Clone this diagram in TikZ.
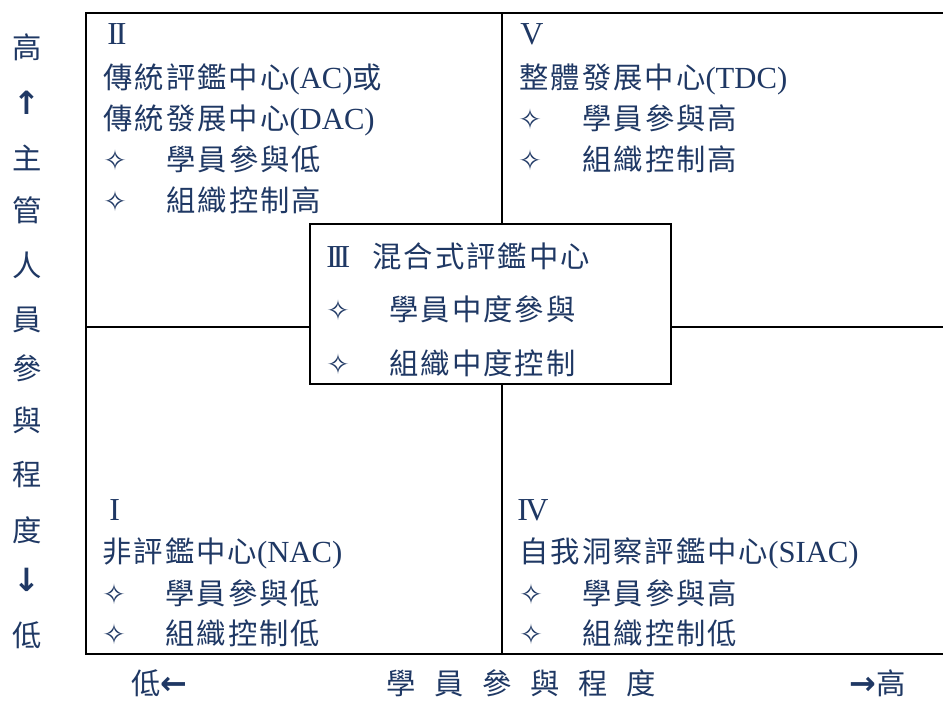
\documentclass[tikz,border=0pt]{standalone}
\usepackage{fontspec}
\setmainfont{Liberation Serif}
\newfontfamily\cjk[LetterSpace=7]{Noto Sans CJK TC}
\newfontfamily\cjkplain{Noto Sans CJK TC}
\newfontfamily\sym{DejaVu Sans}
\newfontfamily\symb{DejaVu Sans Bold}
\definecolor{navy}{RGB}{31,56,100}
\newcommand\zh[1]{{\cjk\fontsize{22}{22}\selectfont #1}}
\newcommand\zhv[1]{{\cjkplain\fontsize{22}{22}\selectfont #1}}
\newcommand\starmk{{\sym\fontsize{21}{21}\selectfont ✧}}
\newcommand\arr[1]{{\symb\fontsize{24}{24}\selectfont #1}}
\tikzset{
  txt/.style={anchor=base west, inner sep=0pt, text=navy, font=\fontsize{23}{23}\selectfont},
  numr/.style={anchor=base west, inner sep=0pt, text=navy, font=\fontsize{24}{24}\selectfont},
  vchar/.style={anchor=center, inner sep=0pt, text=navy},
  outer/.style={line width=1.8pt, black},
  inner/.style={line width=1pt, black},
  midbox/.style={draw=black, line width=1.8pt, fill=white, minimum width=361*0.75pt, minimum height=160*0.75pt, inner sep=0pt, anchor=north west}
}
\begin{document}
\begin{tikzpicture}[x=0.75pt,y=-0.75pt]
\useasboundingbox (0,0) rectangle (943,702);
\fill[white] (0,0) rectangle (943,702);
% grid lines
\coordinate (tl) at (86,13);
\coordinate (tr) at (943,13);
\coordinate (bl) at (86,654);
\coordinate (br) at (943,654);
\coordinate (vt) at (502,13);
\coordinate (vb) at (502,654);
\coordinate (hl) at (86,327);
\coordinate (hr) at (943,327);
\draw[inner] (vt) -- (vb);
\draw[inner] (hl) -- (hr);
\draw[outer] (tr) -- (tl) -- (bl) -- (br);
% center box
\node[midbox] (mid) at (309,223) {};
% left vertical label
\node[vchar] (v1) at (27,47) {\zhv{高}};
\node[vchar] (v2) at (27,103) {\arr{↑}};
\node[vchar] (v3) at (27,158) {\zhv{主}};
\node[vchar] (v4) at (27,210) {\zhv{管}};
\node[vchar] (v5) at (27,265) {\zhv{人}};
\node[vchar] (v6) at (27,320) {\zhv{員}};
\node[vchar] (v7) at (27,368) {\zhv{參}};
\node[vchar] (v8) at (27,420) {\zhv{與}};
\node[vchar] (v9) at (27,475) {\zhv{程}};
\node[vchar] (v10) at (27,530) {\zhv{度}};
\node[vchar] (v11) at (27,580) {\arr{↓}};
\node[vchar] (v12) at (27,635) {\zhv{低}};
% quadrant II
\node[numr] (q2n) at (107,45) {I\kern-1.5ptI};
\node[txt] (q2a) at (103,89) {\zh{傳統評鑑中心}(AC)\zh{或}};
\node[txt] (q2b) at (103,130) {\zh{傳統發展中心}(DAC)};
\node[txt] (q2s1) at (103,171) {\starmk};
\node[txt] (q2t1) at (166,171) {\zh{學員參與低}};
\node[txt] (q2s2) at (103,212) {\starmk};
\node[txt] (q2t2) at (166,212) {\zh{組織控制高}};
% quadrant V
\node[numr] (q5n) at (520,45) {V};
\node[txt] (q5a) at (519,89) {\zh{整體發展中心}(TDC)};
\node[txt] (q5s1) at (518,130) {\starmk};
\node[txt] (q5t1) at (582,130) {\zh{學員參與高}};
\node[txt] (q5s2) at (518,171) {\starmk};
\node[txt] (q5t2) at (582,171) {\zh{組織控制高}};
% quadrant III (center)
\node[numr] (q3n) at (326,268) {I\kern-3ptI\kern-3ptI};
\node[txt] (q3a) at (372,268) {\zh{混合式評鑑中心}};
\node[txt] (q3s1) at (326,321) {\starmk};
\node[txt] (q3t1) at (389,321) {\zh{學員中度參與}};
\node[txt] (q3s2) at (326,375) {\starmk};
\node[txt] (q3t2) at (389,375) {\zh{組織中度控制}};
% quadrant I
\node[numr] (q1n) at (109,520) {I};
\node[txt] (q1a) at (102,562) {\zh{非評鑑中心}(NAC)};
\node[txt] (q1s1) at (102,604) {\starmk};
\node[txt] (q1t1) at (165,604) {\zh{學員參與低}};
\node[txt] (q1s2) at (102,644) {\starmk};
\node[txt] (q1t2) at (165,644) {\zh{組織控制低}};
% quadrant IV
\node[numr] (q4n) at (517,520) {I\kern-2ptV};
\node[txt] (q4a) at (519,562) {\zh{自我洞察評鑑中心}(SIAC)};
\node[txt] (q4s1) at (519,604) {\starmk};
\node[txt] (q4t1) at (582,604) {\zh{學員參與高}};
\node[txt] (q4s2) at (519,644) {\starmk};
\node[txt] (q4t2) at (582,644) {\zh{組織控制低}};
% bottom axis label
\node[txt] (blow) at (131,694) {\zhv{低}\arr{←}};
\node[txt] (bmid) at (386,694) {\zhv{學\hspace{14pt}員\hspace{14pt}參\hspace{14pt}與\hspace{14pt}程\hspace{14pt}度}};
\node[txt] (bhigh) at (849,694) {\arr{→}\zhv{高}};
\end{tikzpicture}
\end{document}
